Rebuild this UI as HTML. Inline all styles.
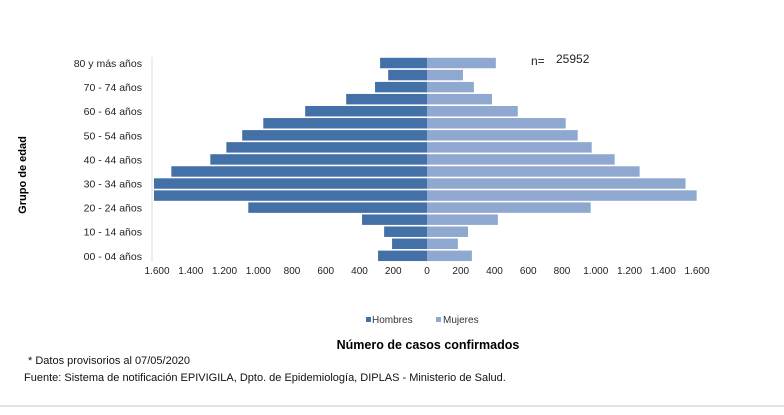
<!DOCTYPE html>
<html><head><meta charset="utf-8"><style>
body{margin:0;background:#fff;width:784px;height:410px;overflow:hidden}
text{font-family:"Liberation Sans",Arial,sans-serif}
</style></head><body>
<svg id="c" width="784" height="410">
<line x1="0" y1="406" x2="784" y2="406" stroke="#e4e4e4" stroke-width="2"/>
<text x="26" y="175" transform="rotate(-90 26 175)" text-anchor="middle" font-size="11" font-weight="bold">Grupo de edad</text>
<text x="531" y="65" font-size="12" fill="#222">n=</text>
<text x="556" y="63" font-size="12" fill="#222">25952</text>
<rect x="366" y="317" width="5" height="5" fill="#4470A8"/>
<text x="372" y="323" font-size="10" fill="#333">Hombres</text>
<rect x="436" y="317" width="5" height="5" fill="#8FA8D0"/>
<text x="443" y="323" font-size="10" fill="#333">Mujeres</text>
<text x="428" y="349" text-anchor="middle" font-size="12.5" font-weight="bold">Número de casos confirmados</text>
<text x="28" y="364" font-size="11" fill="#111">* Datos provisorios  al 07/05/2020</text>
<text x="24" y="381" font-size="11" fill="#111">Fuente: Sistema de notificación EPIVIGILA, Dpto. de Epidemiología, DIPLAS - Ministerio de Salud.</text>
<g id="bars"></g><g id="axes"></g>
</svg>
<script>
const ageGroups=["80 y más años","75 - 79 años","70 - 74 años","65 - 69 años","60 - 64 años","55 - 59 años","50 - 54 años","45 - 49 años","40 - 44 años","35 - 39 años","30 - 34 años","25 - 29 años","20 - 24 años","15 - 19 años","10 - 14 años","05 - 09 años","00 - 04 años"];
const hombres=[278,230,308,479,722,970,1095,1189,1284,1515,1650,1650,1059,385,254,207,290];
const mujeres=[408,213,278,385,538,822,893,976,1112,1260,1532,1598,970,420,243,183,266];
const tickValues=[-1600,-1400,-1200,-1000,-800,-600,-400,-200,0,200,400,600,800,1000,1200,1400,1600];
const tickLabels=["1.600","1.400","1.200","1.000","800","600","400","200","0","200","400","600","800","1.000","1.200","1.400","1.600"];
const NS="http://www.w3.org/2000/svg";
const x0=427,xMin=154,xMax=697,maxV=1600;
const xs=v=>Math.max(xMin,Math.min(xMax,x0+v*(xMax-x0)/maxV));
const topY=57,band=12.05;
const ys=i=>topY+i*band;
const bars=document.getElementById('bars'),axes=document.getElementById('axes');
function mk(t,a,p){const e=document.createElementNS(NS,t);for(const k in a)e.setAttribute(k,a[k]);p.appendChild(e);return e;}
ageGroups.forEach((g,i)=>{
  const y=ys(i)+0.8,h=band-1.6;
  const l=xs(-hombres[i]);
  const r1=mk('rect',{x:l,y:y,width:x0-l,height:h,fill:'#4470A8'},bars);
  
  
  const r=xs(mujeres[i]);
  const r2=mk('rect',{x:x0,y:y,width:r-x0,height:h,fill:'#8FA8D0'},bars);
  
  
  if(i%2===0){
    const t=mk('text',{x:142,y:ys(i)+band/2+4,'text-anchor':'end','font-size':'10.5',fill:'#222'},axes);
    t.textContent=g;
    
    
  }
});
const ax=mk('line',{x1:152,y1:topY,x2:152,y2:ys(17),stroke:'#ddd'},axes);


tickValues.forEach((v,i)=>{
  const t=mk('text',{x:xs(v),y:274,'text-anchor':'middle','font-size':'10',fill:'#222'},axes);
  t.textContent=tickLabels[i];
  
  
});
</script>
</body></html>
